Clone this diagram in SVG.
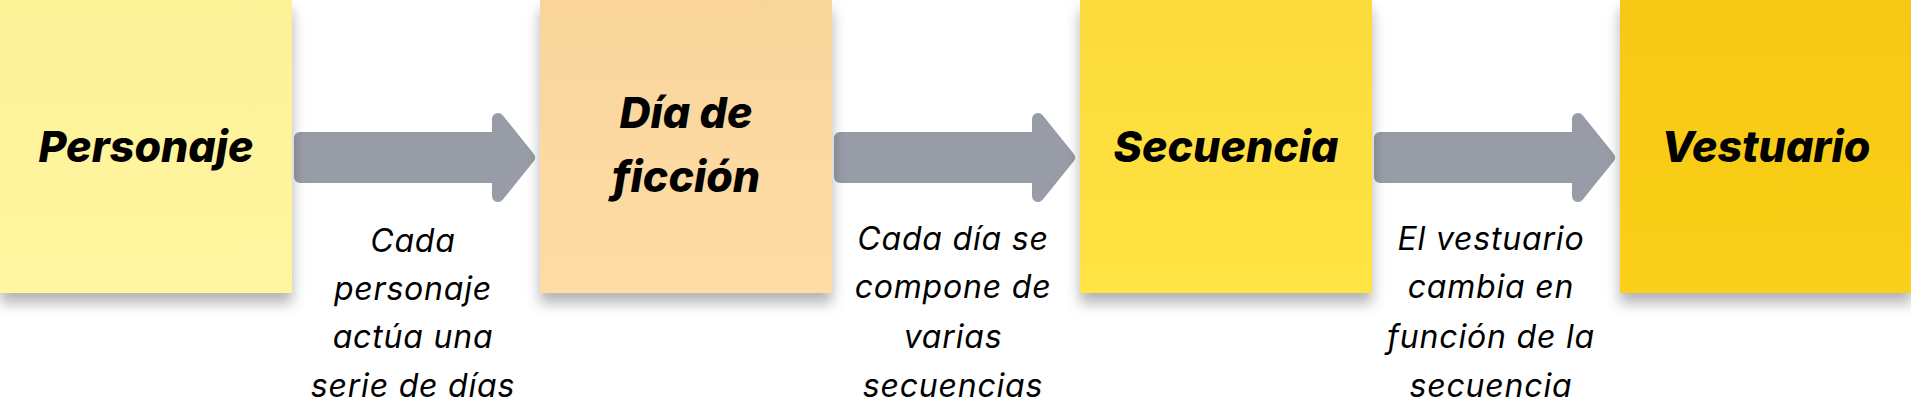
<svg xmlns="http://www.w3.org/2000/svg" width="1911" height="413" viewBox="0 0 1911 413">
  <defs>
    <filter id="shadow" x="-10%" y="-10%" width="120%" height="130%">
      <feDropShadow dx="0" dy="10" stdDeviation="7" flood-color="#000" flood-opacity="0.3"/>
    </filter>
    <linearGradient id="g1" x1="0" y1="0" x2="0" y2="1">
      <stop offset="0" stop-color="#FBF197"/>
      <stop offset="1" stop-color="#FFF6A1"/>
    </linearGradient>
    <linearGradient id="g2" x1="0" y1="0" x2="0" y2="1">
      <stop offset="0" stop-color="#F9D59B"/>
      <stop offset="1" stop-color="#FDDCA5"/>
    </linearGradient>
    <linearGradient id="g3" x1="0" y1="0" x2="0" y2="1">
      <stop offset="0" stop-color="#FBDB3A"/>
      <stop offset="1" stop-color="#FFE444"/>
    </linearGradient>
    <linearGradient id="g4" x1="0" y1="0" x2="0" y2="1">
      <stop offset="0" stop-color="#F5C816"/>
      <stop offset="1" stop-color="#FBD01A"/>
    </linearGradient>
  </defs>
  <style>
    .note { filter: url(#shadow); }
    .title { font-family: Inter, "Liberation Sans", sans-serif; font-weight: 800; font-style: italic; font-size: 43px; fill: #000; text-anchor: middle; }
    .label { font-family: Inter, "Liberation Sans", sans-serif; font-weight: 400; font-style: italic; font-size: 32px; letter-spacing: 0.8px; fill: #000; text-anchor: middle; }
    .arrow { fill: #979CA6; stroke: #979CA6; stroke-width: 12; stroke-linejoin: round; }
  </style>
  <rect width="1911" height="413" fill="#FFFFFF"/>

  <g id="connectors">
    <path class="arrow" d="M300,138 H498 V119 L529,157.5 L498,196 V177 H300 Z"/>
    <path class="arrow" d="M840,138 H1038 V119 L1069,157.5 L1038,196 V177 H840 Z"/>
    <path class="arrow" d="M1380,138 H1578 V119 L1609,157.5 L1578,196 V177 H1380 Z"/>
    <g id="label-1">
      <text class="label" x="413" y="252">Cada</text>
      <text class="label" x="413" y="300">personaje</text>
      <text class="label" x="413" y="348">actúa una</text>
      <text class="label" x="413" y="397">serie de días</text>
    </g>
    <g id="label-2">
      <text class="label" x="953" y="250">Cada día se</text>
      <text class="label" x="953" y="298">compone de</text>
      <text class="label" x="953" y="348">varias</text>
      <text class="label" x="953" y="397">secuencias</text>
    </g>
    <g id="label-3">
      <text class="label" x="1491" y="250">El vestuario</text>
      <text class="label" x="1491" y="298">cambia en</text>
      <text class="label" x="1491" y="348">función de la</text>
      <text class="label" x="1491" y="397">secuencia</text>
    </g>
  </g>

  <g id="node-personaje">
    <rect class="note" x="0" y="0" width="292" height="293" fill="url(#g1)"/>
    <text class="title" x="146" y="162">Personaje</text>
  </g>
  <g id="node-dia-de-ficcion">
    <rect class="note" x="540" y="0" width="292" height="293" fill="url(#g2)"/>
    <text class="title" x="686" y="128">Día de</text>
    <text class="title" x="686" y="192">ficción</text>
  </g>
  <g id="node-secuencia">
    <rect class="note" x="1080" y="0" width="292" height="293" fill="url(#g3)"/>
    <text class="title" x="1226" y="162">Secuencia</text>
  </g>
  <g id="node-vestuario">
    <rect class="note" x="1620" y="0" width="292" height="293" fill="url(#g4)"/>
    <text class="title" x="1766" y="162">Vestuario</text>
  </g>
</svg>
